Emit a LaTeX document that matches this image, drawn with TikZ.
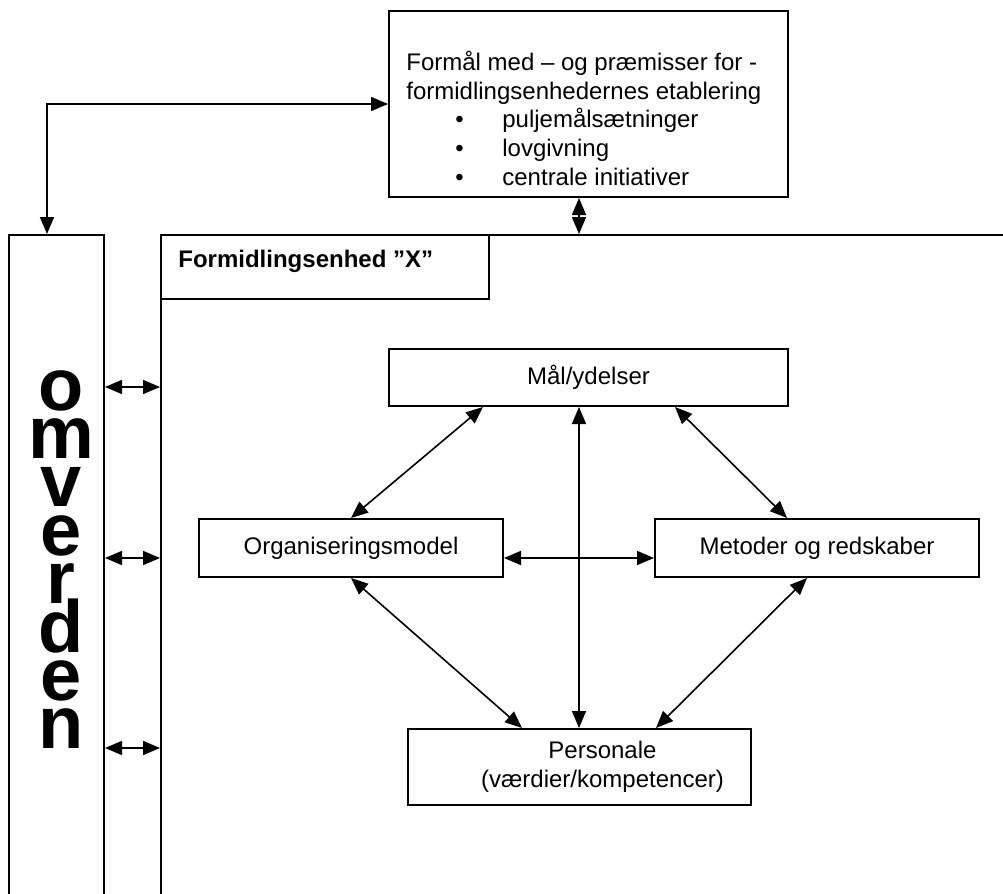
\documentclass[tikz,border=0pt]{standalone}
\usepackage{fontspec}
\setmainfont{Liberation Sans}
\usetikzlibrary{arrows.meta}

\newcommand{\tekst}{\fontsize{12}{14.3}\selectfont}

\begin{document}
\begin{tikzpicture}[x=0.5pt,y=-0.5pt,
  >={Triangle[length=8.5pt,width=7pt]},
  every node/.style={font=\tekst},
  boks/.style={draw,line width=1pt,inner sep=0pt},
  pil/.style={<->,line width=0.8pt}]
\useasboundingbox (0,0) rectangle (1003,894);
\clip (0,0) rectangle (1003,894);

% top box
\node[boks,minimum width=199.5pt,minimum height=93pt] (Formaal) at (588.5,104) {};
\node[anchor=base west,inner sep=0pt,align=left] (FormaalTekst) at (406,185)
  {Formål med -- og præmisser for -\\
   formidlingsenhedernes etablering\\
   \hspace*{24.5pt}\makebox[23.5pt][l]{•}puljemålsætninger\\
   \hspace*{24.5pt}\makebox[23.5pt][l]{•}lovgivning\\
   \hspace*{24.5pt}\makebox[23.5pt][l]{•}centrale initiativer};

% omverden and the unit frame
\node[boks,minimum width=47.5pt,minimum height=342.5pt] (Omverden) at (56.5,577.5) {};
\foreach \bogstav [count=\i] in {o,m,v,e,r,d,e,n}
  \node[anchor=base,inner sep=0pt,font=\fontsize{37}{37}\selectfont\bfseries] (Omv\i) at (61,{410+48.4*(\i-1)}) {\bogstav};
\node[boks,minimum width=429.5pt,minimum height=342.5pt] (Enhed) at (590.5,577.5) {};
\node[boks,minimum width=164pt,minimum height=32pt,anchor=north west] (EnhedTitel) at (Enhed.north west) {};
\node[anchor=base west,inner sep=0pt,font=\tekst\bfseries] (EnhedTekst) at (178,267) {Formidlingsenhed ”X”};

% inner boxes
\node[boks,minimum width=199.5pt,minimum height=28.5pt] (Maal) at (588.5,377.5) {Mål/ydelser};
\node[boks,minimum width=152pt,minimum height=29pt] (Organisering) at (351,548) {Organiseringsmodel};
\node[boks,minimum width=162pt,minimum height=29pt] (Metoder) at (817,548) {Metoder og redskaber};
\node[boks,minimum width=171.5pt,minimum height=38pt,align=center] (Personale) at (579.5,767)
  {\hspace*{23pt}Personale\\ \hspace*{23pt}(værdier/kompetencer)};

\draw[pil] ([xshift=-4.75pt]Omverden.north) |- (Formaal.west);
\draw[pil] ([xshift=-4.75pt]Formaal.south) to ([xshift=-5.75pt]Enhed.north);
\foreach \dy in {95.25,9.75,-85.25}
  \draw[pil] ([yshift=\dy pt]Omverden.east) to ([yshift=\dy pt]Enhed.west);

\draw[pil] ([xshift=-52.75pt]Maal.south) to (Organisering.north);
\draw[pil] ([xshift=43.25pt]Maal.south) to ([xshift=-15pt]Metoder.north);
\draw[pil] ([xshift=-4.75pt]Maal.south) to ([xshift=-0.25pt]Personale.north);
\draw[pil] ([yshift=-5pt]Organisering.east) to ([yshift=-5pt]Metoder.west);
\draw[pil] (Organisering.south) to ([xshift=-28.75pt]Personale.north);
\draw[pil] ([xshift=-5pt]Metoder.south) to ([xshift=38.25pt]Personale.north);
\end{tikzpicture}
\end{document}
